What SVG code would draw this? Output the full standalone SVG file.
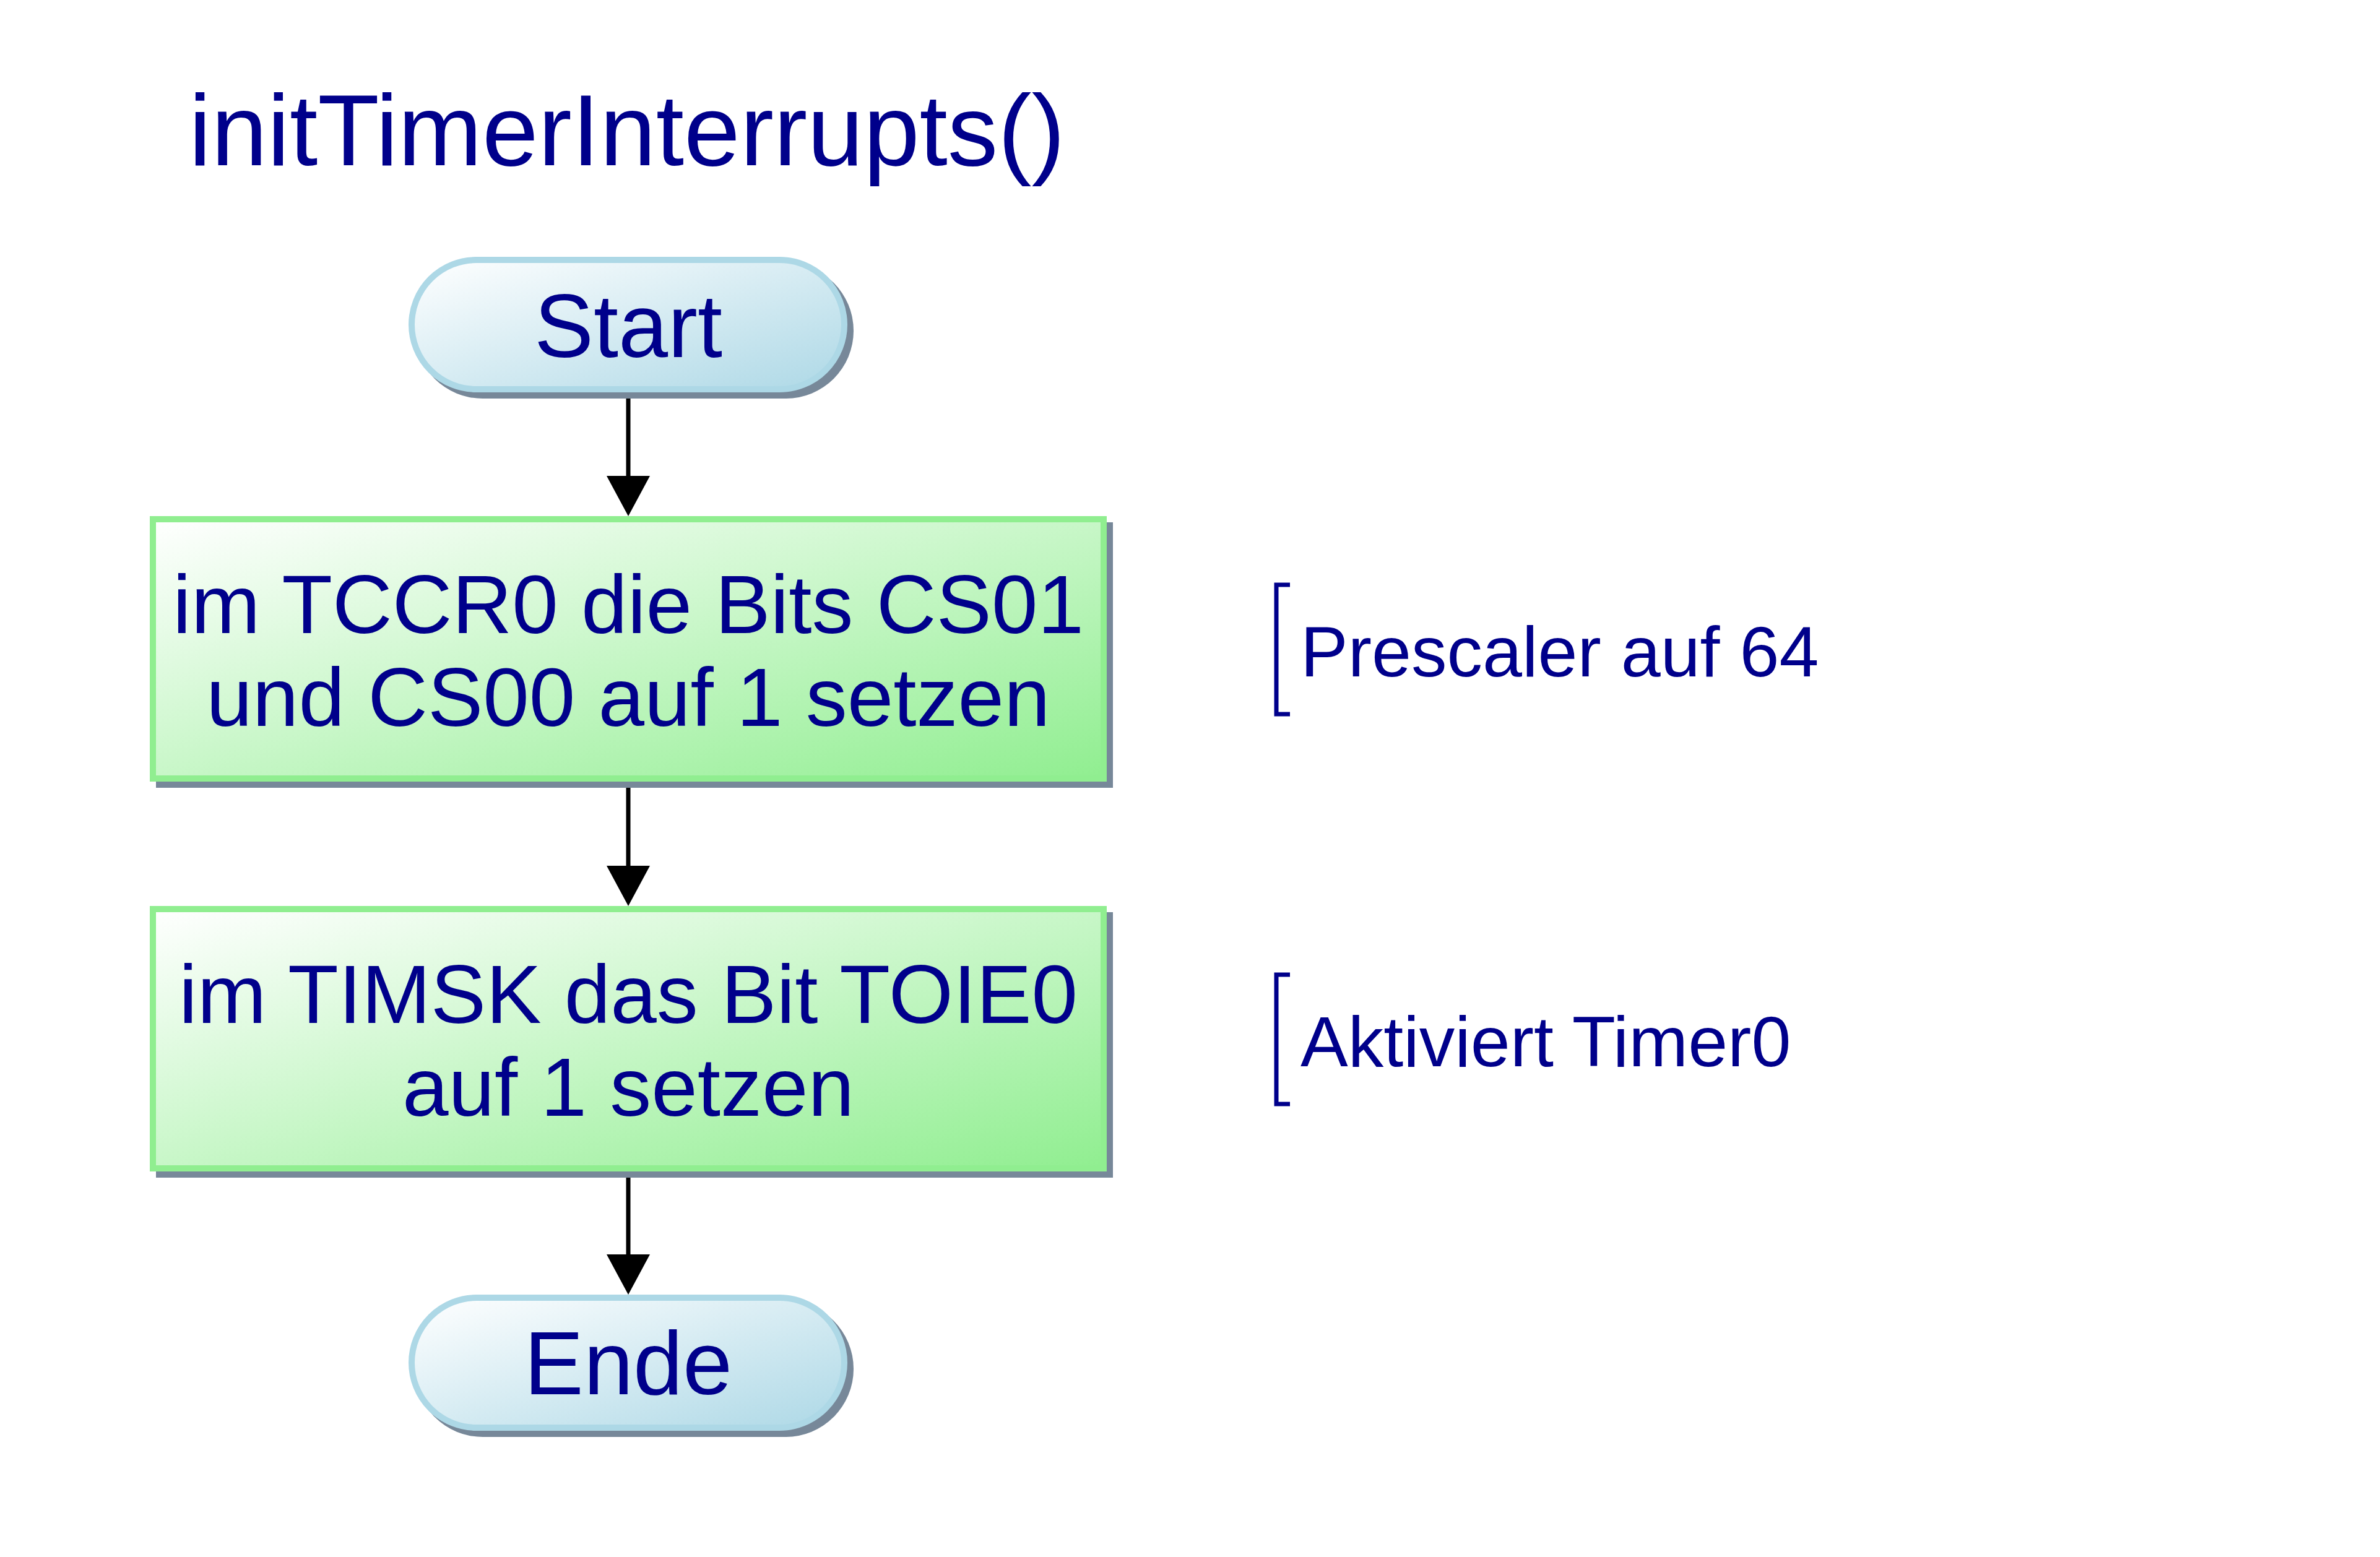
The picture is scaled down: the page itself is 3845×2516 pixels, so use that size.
<svg xmlns="http://www.w3.org/2000/svg" width="3845" height="2516" viewBox="0 0 3845 2516">
<defs>
<linearGradient id="gBlue" x1="0" y1="0" x2="1" y2="1">
<stop offset="0" stop-color="#FFFFFF"/>
<stop offset="1" stop-color="#ADD8E6"/>
</linearGradient>
<linearGradient id="gGreen" x1="0" y1="0" x2="1" y2="1">
<stop offset="0" stop-color="#FFFFFF"/>
<stop offset="1" stop-color="#90EE90"/>
</linearGradient>
</defs>
<style>
text{font-family:"Liberation Sans",Arial,sans-serif;fill:#00008B;}
.shadow{fill:#778899;}
.term{fill:url(#gBlue);stroke:#ADD8E6;stroke-width:10;}
.proc{fill:url(#gGreen);stroke:#90EE90;stroke-width:10;}
.t1{font-size:144px;text-anchor:middle;}
.t2{font-size:134px;text-anchor:middle;}
.ann{font-size:115px;}
.br{fill:none;stroke:#00008B;stroke-width:7;}
.conn{stroke:#000;stroke-width:7;fill:none;}
.head{fill:#000;}
</style>
<rect width="3845" height="2516" fill="#FFFFFF"/>
<text x="305" y="267" style="font-size:163px">initTimerInterrupts()</text>
<g id="connectors">
<line class="conn" x1="1015" y1="634" x2="1015" y2="772"/>
<path class="head" d="M980,769 L1050,769 L1015,834 Z"/>
<line class="conn" x1="1015" y1="1263" x2="1015" y2="1402"/>
<path class="head" d="M980,1399 L1050,1399 L1015,1464 Z"/>
<line class="conn" x1="1015" y1="1893" x2="1015" y2="2030"/>
<path class="head" d="M980,2027 L1050,2027 L1015,2092 Z"/>
</g>
<g id="start">
<rect class="shadow" x="670" y="425" width="709" height="219" rx="109.5"/>
<rect class="term" x="665" y="420" width="699" height="209" rx="104.5"/>
<text class="t1" x="1015" y="577">Start</text>
</g>
<g id="step1">
<rect class="shadow" x="252" y="844" width="1546" height="429"/>
<rect class="proc" x="247" y="839" width="1536" height="419"/>
<text class="t2" x="1015" y="1023">im TCCR0 die Bits CS01</text>
<text class="t2" x="1015" y="1173">und CS00 auf 1 setzen</text>
</g>
<g id="step2">
<rect class="shadow" x="252" y="1474" width="1546" height="429"/>
<rect class="proc" x="247" y="1469" width="1536" height="419"/>
<text class="t2" x="1015" y="1653">im TIMSK das Bit TOIE0</text>
<text class="t2" x="1015" y="1803">auf 1 setzen</text>
</g>
<g id="ende">
<rect class="shadow" x="670" y="2102" width="709" height="220" rx="110"/>
<rect class="term" x="665" y="2097" width="699" height="210" rx="105"/>
<text class="t1" x="1015" y="2253">Ende</text>
</g>
<g id="note1">
<path class="br" d="M2084,945 L2062,945 L2062,1154 L2084,1154"/>
<text class="ann" x="2101" y="1093">Prescaler auf 64</text>
</g>
<g id="note2">
<path class="br" d="M2084,1575 L2062,1575 L2062,1784 L2084,1784"/>
<text class="ann" x="2101" y="1723">Aktiviert Timer0</text>
</g>
</svg>
